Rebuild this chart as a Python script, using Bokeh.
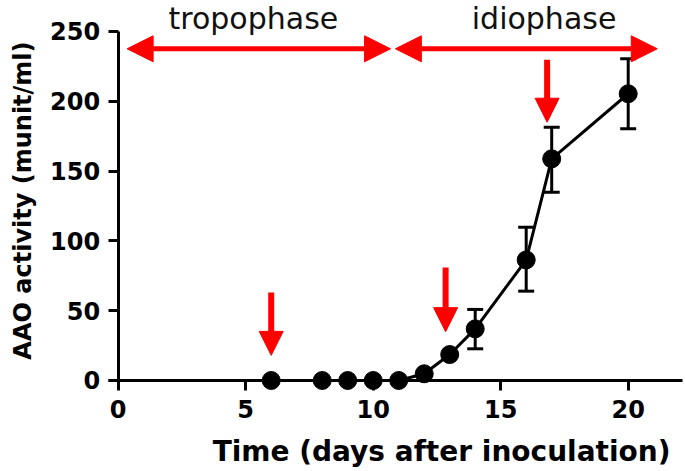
from bokeh.plotting import figure
from bokeh.models import ColumnDataSource, Whisker, TeeHead, Arrow, NormalHead, Label, FixedTicker
from bokeh.embed import file_html
from bokeh.resources import INLINE

# ---- data ----
days = [6, 8, 9, 10, 11, 12, 13, 14, 16, 17, 20]
activity = [0, 0, 0, 0, 0, 4.8, 18.6, 37, 86.4, 158.8, 205.4]

err_days = [14, 16, 17, 20]
err_low = [22.7, 64, 134.9, 180.3]
err_high = [50.9, 109.8, 181.4, 230.4]

x_ticks = [0, 5, 10, 15, 20]
y_ticks = [0, 50, 100, 150, 200, 250]

x_title = "Time (days after inoculation)"
y_title = "AAO activity (munit/ml)"

# phase arrows (x_start, x_end) at a common height
phase_names = ["tropophase", "idiophase"]
phase_start = [0.35, 10.87]
phase_end = [10.68, 21.14]
phase_y = 237.6
phase_label_x = [5.3, 16.7]
phase_label_y = 259.5

# vertical marker arrows (x, top, tip)
mark_x = [6, 12.84, 16.82]
mark_top = [63, 81, 229.7]
mark_tip = [18, 35, 185]

FONT = "DejaVu Sans"
RED = "#ff0000"

W, H = 685, 471
p = figure(width=W, height=H,
           x_range=(-4.616, 22.247), y_range=(-65.19, 272.2),
           output_backend="svg", toolbar_location=None,
           min_border_left=0, min_border_right=0,
           min_border_top=0, min_border_bottom=0)

p.grid.visible = False
p.outline_line_color = None
p.background_fill_color = "white"
p.border_fill_color = "white"

for ax in (p.xaxis[0], p.yaxis[0]):
    ax.axis_line_width = 3
    ax.major_tick_line_width = 3
    ax.major_tick_out = 10
    ax.major_tick_in = 0
    ax.minor_tick_line_color = None
    ax.major_label_text_font = FONT
    ax.major_label_text_font_style = "bold"
    ax.major_label_text_font_size = "24px"
    ax.major_label_text_color = "black"
    ax.axis_line_color = "black"
    ax.major_tick_line_color = "black"

p.xaxis.ticker = FixedTicker(ticks=x_ticks)
p.yaxis.ticker = FixedTicker(ticks=y_ticks)
p.xaxis.fixed_location = 0
p.yaxis.fixed_location = 0
p.xaxis.bounds = (-0.4, 22.12)
p.yaxis.bounds = (0, 250)
p.xaxis.major_label_standoff = 10
p.yaxis.major_label_standoff = 8

# data line and markers
src = ColumnDataSource(dict(x=days, y=activity))
p.line("x", "y", source=src, line_color="black", line_width=3)
p.scatter("x", "y", source=src, size=18, fill_color="black", line_color="black")

esrc = ColumnDataSource(dict(x=err_days, lo=err_low, hi=err_high))
p.add_layout(Whisker(source=esrc, base="x", lower="lo", upper="hi",
                     line_color="black", line_width=3,
                     upper_head=TeeHead(size=16, line_width=3, line_color="black"),
                     lower_head=TeeHead(size=16, line_width=3, line_color="black")))

# phase arrows
for xs, xe in zip(phase_start, phase_end):
    p.add_layout(Arrow(x_start=xs, y_start=phase_y, x_end=xe, y_end=phase_y,
                       line_color=RED, line_width=5,
                       start=NormalHead(size=26, fill_color=RED, line_color=RED, line_width=1),
                       end=NormalHead(size=26, fill_color=RED, line_color=RED, line_width=1)))

for name, lx in zip(phase_names, phase_label_x):
    p.add_layout(Label(x=lx, y=phase_label_y, text=name, text_align="center",
                       text_baseline="alphabetic", text_font=FONT,
                       text_font_size="30px", text_color="#111111"))

# vertical marker arrows
for mx, mt, mp in zip(mark_x, mark_top, mark_tip):
    p.add_layout(Arrow(x_start=mx, y_start=mt, x_end=mx, y_end=mp,
                       line_color=RED, line_width=6,
                       end=NormalHead(size=24, fill_color=RED, line_color=RED, line_width=1)))

# axis titles
p.add_layout(Label(x=21.66, y=-51.0, text=x_title,
                   text_align="right", text_baseline="alphabetic",
                   text_font=FONT, text_font_style="bold",
                   text_font_size="28px", text_color="black"))
p.add_layout(Label(x=-3.75, y=128.9, text=y_title, angle=90, angle_units="deg",
                   text_align="center", text_baseline="middle",
                   text_font=FONT, text_font_style="bold",
                   text_font_size="24px", text_color="black"))

open("out.html", "w").write(file_html(p, INLINE))
